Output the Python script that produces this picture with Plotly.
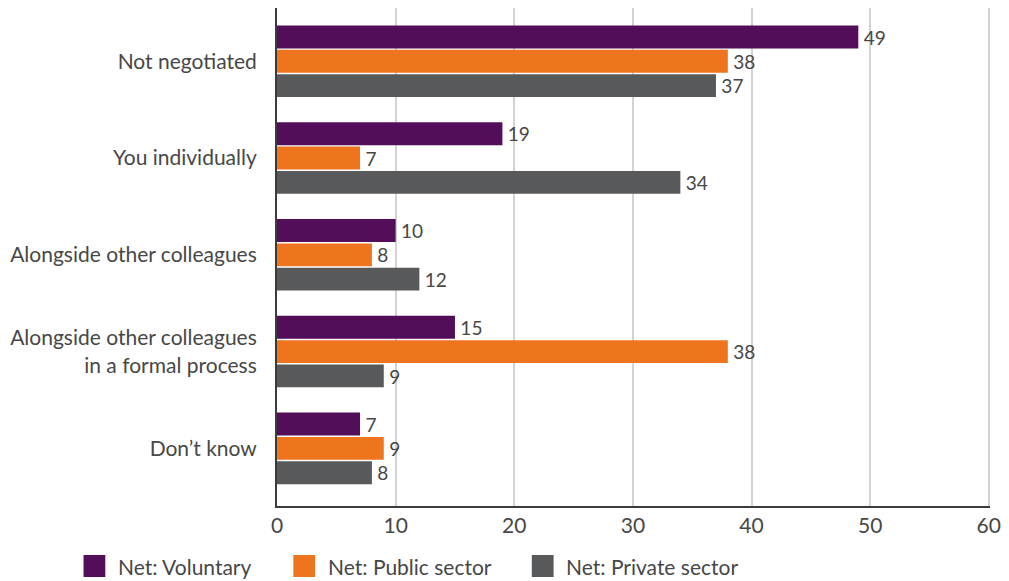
import plotly.graph_objects as go

# Survey responses (%), one list per sector
categories = [
    "Not negotiated",
    "You individually",
    "Alongside other colleagues",
    "Alongside other colleagues<br>in a formal process",
    "Don’t know",
]
voluntary = [49, 19, 10, 15, 7]
public_sector = [38, 7, 8, 38, 9]
private_sector = [37, 34, 12, 9, 8]

series_names = ["Net: Voluntary", "Net: Public sector", "Net: Private sector"]
series_values = [voluntary, public_sector, private_sector]
series_colors = ["#520E59", "#EE741D", "#58595B"]

x_ticks = [0, 10, 20, 30, 40, 50, 60]

FONT = "Lato"
TEXT_COLOR = "#474747"

fig = go.Figure()
for name, vals, col in zip(series_names, series_values, series_colors):
    fig.add_trace(go.Bar(
        y=categories,
        x=vals,
        name=name,
        orientation="h",
        marker=dict(color=col, line=dict(width=0)),
        text=["\u2009" + str(v) for v in vals],
        textposition="outside",
        textfont=dict(family=FONT, size=20, color=TEXT_COLOR),
        cliponaxis=False,
        showlegend=False,
    ))

# Legend drawn as squares with captions below the plot
ML, MR, MT, MB = 276.5, 12, 8, 75
W, H = 1009, 581
pw = W - ML - MR
ph = H - MT - MB
legend_x_px = [81, 293, 534]
sq_top, sq_bot = 555, 577
shapes = []
annotations = []
for name, col, px in zip(series_names, series_colors, legend_x_px):
    shapes.append(dict(
        type="rect", xref="paper", yref="paper",
        x0=(px - ML) / pw, x1=(px + 22 - ML) / pw,
        y0=(H - MB - sq_top) / ph, y1=(H - MB - sq_bot) / ph,
        fillcolor=col, line=dict(width=0),
    ))
    annotations.append(dict(
        text=name, xref="paper", yref="paper",
        x=(px + 33 - ML) / pw, y=(H - MB - (sq_top + sq_bot) / 2) / ph,
        xanchor="left", yanchor="middle", showarrow=False,
        font=dict(family=FONT, size=21, color=TEXT_COLOR),
    ))

fig.update_layout(
    width=W,
    height=H,
    margin=dict(l=ML, r=MR, t=MT, b=MB),
    paper_bgcolor="white",
    plot_bgcolor="white",
    barmode="group",
    bargap=0.245,
    bargroupgap=0.06,
    font=dict(family=FONT, size=20, color=TEXT_COLOR),
    shapes=shapes,
    annotations=annotations,
    xaxis=dict(
        range=[0, 60.1],
        tickvals=x_ticks,
        ticktext=[str(t) for t in x_ticks],
        showgrid=True,
        gridcolor="#D3D3D3",
        gridwidth=2,
        zeroline=False,
        showline=True,
        linecolor="#3C3C3C",
        linewidth=2,
        ticks="",
        tickfont=dict(family=FONT, size=21, color=TEXT_COLOR),
    ),
    yaxis=dict(
        categoryorder="array",
        categoryarray=categories,
        range=[4.596, -0.551],
        showgrid=False,
        zeroline=False,
        showline=True,
        linecolor="#3C3C3C",
        linewidth=2,
        ticks="",
        ticklabelstandoff=14,
        tickfont=dict(family=FONT, size=21, color=TEXT_COLOR),
    ),
)

fig.write_html("out.html")
